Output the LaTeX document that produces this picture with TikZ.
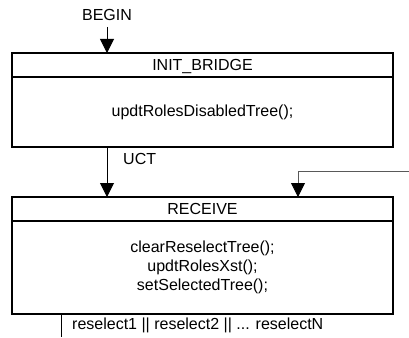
\documentclass[tikz,border=0pt]{standalone}
\usepackage{fontspec}
\setmainfont{Liberation Sans}
\usetikzlibrary{arrows.meta,positioning}

\begin{document}
\begin{tikzpicture}[x=1pt,y=-1pt,>={Triangle[length=14pt,width=14pt]},
  font=\fontsize{16}{18.7}\selectfont,line cap=butt,
  statehead/.style={draw,line width=2pt,minimum width=381pt,minimum height=24pt,
    inner sep=0pt,outer sep=0pt,text height=11.5pt,text depth=0pt},
  statebody/.style={draw,line width=2pt,minimum width=381pt,inner sep=0pt,
    outer sep=0pt,align=center},
  flow/.style={->,line width=1pt},
  label/.style={inner sep=0pt}]
\useasboundingbox (0,0) rectangle (409,337);
% states
\node[statehead] (initT) at (202.5,65) {INIT\_BRIDGE};
\node[statebody,minimum height=70pt,below=0pt of initT] (initB) {updtRolesDisabledTree();};
\node[statehead] (recvT) at (202.5,209) {RECEIVE};
\node[statebody,minimum height=93pt,below=0pt of recvT] (recvB)
  {clearReselectTree();\\updtRolesXst();\\setSelectedTree();};
% transitions
\node[label] (begin) at (107,15) {BEGIN};
\draw[flow] (begin) ++(0,12) -- (begin |- initT.north);
\draw[flow] (begin |- initB.south) -- (begin |- recvT.north);
\node[label,anchor=west] (uct) at (123,158.5) {UCT};
\coordinate (loop) at (409,171);
\draw[->,>={Triangle[length=14pt,width=14pt,color=black]},gray!70!black,line width=0.8pt]
  (loop) -| ([xshift=95.5pt]recvT.north);
\coordinate (exit) at (61,337);
\draw[line width=1pt] (exit |- recvB.south) -- (exit);
\node[label,anchor=west] (resel) at (72,325) {reselect1 || reselect2 || ... reselectN};
\end{tikzpicture}
\end{document}
